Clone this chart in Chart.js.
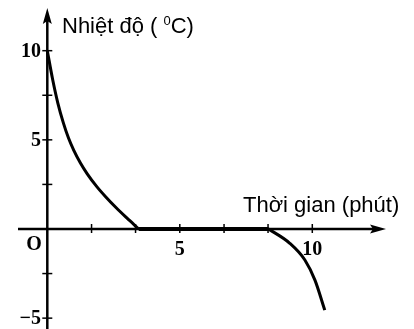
<!DOCTYPE html>
<html>
<head>
<meta charset="utf-8">
<script src="https://cdn.jsdelivr.net/npm/chart.js@4/dist/chart.umd.min.js"></script>
<style>
  html, body { margin: 0; padding: 0; background: #ffffff; }
  #wrap { width: 414px; height: 329px; position: relative; }
</style>
</head>
<body>
<div id="wrap"><canvas id="chart"></canvas></div>
<script>
// cooling from 10 °C down to 0 °C
const coolTime = [0, 0.2, 0.4, 0.6, 0.8, 1.0, 1.25, 1.5, 1.86, 2.2, 2.6, 3.0, 3.45];
const coolTemp = [10, 8.4, 7.05, 5.98, 5.1, 4.41, 3.7, 3.11, 2.39, 1.81, 1.19, 0.62, 0];
// melting / freezing plateau
const holdTime = [3.45, 8.35];
const holdTemp = [0, 0];
// below zero
const freezeTime = [8.35, 9.15, 9.72, 10.1, 10.47];
const freezeTemp = [0, -0.8, -1.74, -2.87, -4.55];

// tick marks and labels
const xTickValues = [1.67, 3.33, 5, 6.67, 8.33, 10];
const xLabelValues = [5, 10];
const xLabels = ['5', '10'];
const yTickValues = [-5, -2.5, 2.5, 5, 7.5, 10];
const yLabelValues = [10, 5, -5];
const yLabels = ['10', '5', '\u22125'];
const yTitle = ['Nhiệt độ ( ', '0', 'C)'];
const xTitle = 'Thời gian (phút)';

function toPoints(xs, ys) {
  return xs.map((x, i) => ({ x: x, y: ys[i] }));
}

// 坐标轴、箭头、刻度
const axesPlugin = {
  id: 'axes',
  beforeDatasetsDraw(chart) {
    const ctx = chart.ctx;
    const xs = chart.scales.x;
    const ys = chart.scales.y;
    const x0 = xs.getPixelForValue(0);
    const y0 = ys.getPixelForValue(0);

    ctx.save();
    ctx.strokeStyle = '#000';
    ctx.fillStyle = '#000';
    ctx.lineWidth = 2.5;

    // x axis
    ctx.beginPath();
    ctx.moveTo(18, y0);
    ctx.lineTo(378, y0);
    ctx.stroke();
    ctx.beginPath();
    ctx.moveTo(386, y0);
    ctx.lineTo(370, y0 - 4.5);
    ctx.lineTo(373, y0);
    ctx.lineTo(370, y0 + 4.5);
    ctx.closePath();
    ctx.fill();

    // y axis
    ctx.beginPath();
    ctx.moveTo(x0, 329);
    ctx.lineTo(x0, 18);
    ctx.stroke();
    ctx.beginPath();
    ctx.moveTo(x0, 8);
    ctx.lineTo(x0 - 4.5, 24);
    ctx.lineTo(x0, 21);
    ctx.lineTo(x0 + 4.5, 24);
    ctx.closePath();
    ctx.fill();

    // ticks
    ctx.lineWidth = 1.5;
    xTickValues.forEach(v => {
      const px = xs.getPixelForValue(v);
      ctx.beginPath();
      ctx.moveTo(px, y0 - 5);
      ctx.lineTo(px, y0 + 4);
      ctx.stroke();
    });
    yTickValues.forEach(v => {
      const py = ys.getPixelForValue(v);
      ctx.beginPath();
      ctx.moveTo(x0 - 5, py);
      ctx.lineTo(x0 + 5, py);
      ctx.stroke();
    });

    // tick labels
    ctx.font = 'bold 20px "Liberation Serif", "Times New Roman", serif';
    ctx.textBaseline = 'middle';
    ctx.textAlign = 'right';
    yLabelValues.forEach((v, i) => {
      ctx.fillText(yLabels[i], 41, ys.getPixelForValue(v) + 1);
    });
    ctx.textAlign = 'center';
    ctx.textBaseline = 'top';
    xLabelValues.forEach((v, i) => {
      ctx.fillText(xLabels[i], xs.getPixelForValue(v), y0 + 11);
    });
    ctx.fillText('O', 34, y0 + 6);

    // axis titles
    ctx.textAlign = 'left';
    ctx.textBaseline = 'alphabetic';
    ctx.font = '22px "Liberation Sans", Arial, sans-serif';
    let tx = 62;
    ctx.fillText(yTitle[0], tx, 33);
    tx += ctx.measureText(yTitle[0]).width;
    ctx.font = '13px "Liberation Sans", Arial, sans-serif';
    ctx.fillText(yTitle[1], tx, 25);
    tx += ctx.measureText(yTitle[1]).width;
    ctx.font = '22px "Liberation Sans", Arial, sans-serif';
    ctx.fillText(yTitle[2], tx, 33);

    ctx.fillText(xTitle, 243, 212);
    ctx.restore();
  }
};

const lineStyle = {
  borderColor: '#000',
  borderWidth: 3,
  pointRadius: 0,
  showLine: true,
  fill: false,
  cubicInterpolationMode: 'monotone'
};

new Chart(document.getElementById('chart'), {
  type: 'scatter',
  data: {
    datasets: [
      Object.assign({ data: toPoints(coolTime, coolTemp) }, lineStyle),
      Object.assign({ data: toPoints(holdTime, holdTemp) }, lineStyle, { borderWidth: 4 }),
      Object.assign({ data: toPoints(freezeTime, freezeTemp) }, lineStyle)
    ]
  },
  options: {
    responsive: true,
    maintainAspectRatio: false,
    animation: false,
    devicePixelRatio: 1,
    layout: { padding: 0 },
    scales: {
      x: { type: 'linear', min: -1.785, max: 13.838, display: false },
      y: { type: 'linear', min: -5.609, max: 12.843, display: false }
    },
    plugins: {
      legend: { display: false },
      tooltip: { enabled: false }
    }
  },
  plugins: [axesPlugin]
});
</script>
</body>
</html>
